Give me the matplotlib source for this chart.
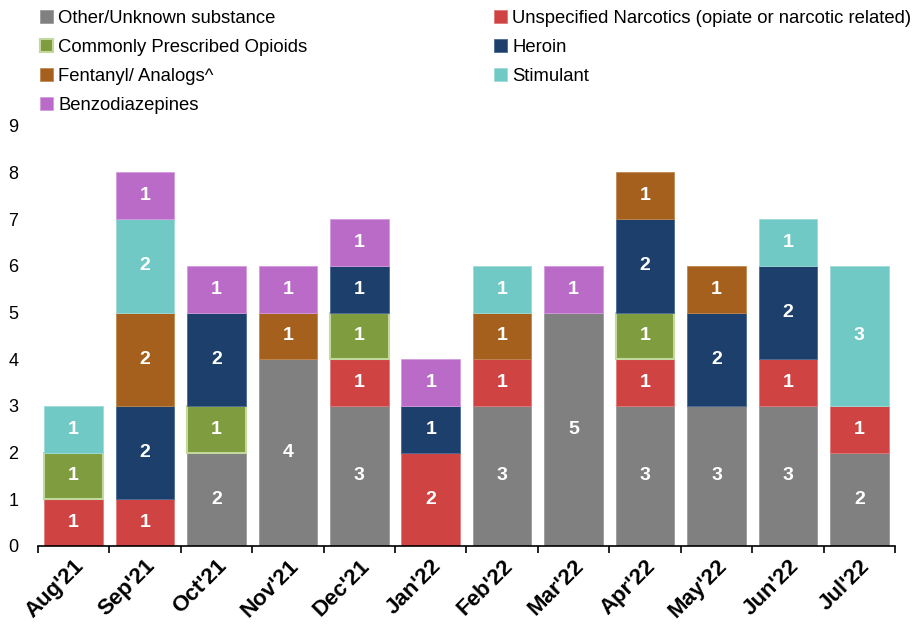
import numpy as np
import matplotlib.pyplot as plt
from matplotlib.ticker import FixedLocator

plt.rcParams['font.family'] = ['Liberation Sans', 'DejaVu Sans']

months = ["Aug'21", "Sep'21", "Oct'21", "Nov'21", "Dec'21", "Jan'22",
          "Feb'22", "Mar'22", "Apr'22", "May'22", "Jun'22", "Jul'22"]

other = [0, 0, 2, 4, 3, 0, 3, 5, 3, 3, 3, 2]
unspecified = [1, 1, 0, 0, 1, 2, 1, 0, 1, 0, 1, 1]
prescribed = [1, 0, 1, 0, 1, 0, 0, 0, 1, 0, 0, 0]
heroin = [0, 2, 2, 0, 1, 1, 0, 0, 2, 2, 2, 0]
fentanyl = [0, 2, 0, 1, 0, 0, 1, 0, 1, 1, 0, 0]
stimulant = [1, 2, 0, 0, 0, 0, 1, 0, 0, 0, 1, 3]
benzo = [0, 1, 1, 1, 1, 1, 0, 1, 0, 0, 0, 0]

series = [
    ("Other/Unknown substance", other, "#808080", "#9a9a9a"),
    ("Unspecified Narcotics (opiate or narcotic related)", unspecified, "#D04343", "#e07a7a"),
    ("Commonly Prescribed Opioids", prescribed, "#7F9C3E", "#c3d89c"),
    ("Heroin", heroin, "#1C3F6B", "#4a6a96"),
    ("Fentanyl/ Analogs^", fentanyl, "#A5601E", "#c08850"),
    ("Stimulant", stimulant, "#71C9C5", "#9edad7"),
    ("Benzodiazepines", benzo, "#BA6BC8", "#d49ade"),
]

fig = plt.figure(figsize=(9.2, 6.26), dpi=100)
ax = fig.add_axes([0.041, 0.128, 0.932, 0.671])

x = np.arange(len(months))
bottom = np.zeros(len(months))
handles = {}
for name, vals, col, edge in series:
    vals = np.array(vals)
    lw = 1.5 if name.startswith("Commonly") else 0.6
    keep = vals > 0
    bars = ax.bar(x[keep], vals[keep], 0.82, bottom=bottom[keep], color=col,
                  edgecolor=edge, linewidth=lw, label=name)
    handles[name] = bars
    for xi, v, b in zip(x[keep], vals[keep], bottom[keep]):
        ax.text(xi, b + v / 2, str(v), ha='center', va='center',
                color='white', fontsize=14, fontweight='bold')
    bottom = bottom + vals

ax.set_xlim(-0.5, len(months) - 0.5)
ax.set_ylim(0, 9)
ax.set_yticks(range(0, 10))
ax.tick_params(axis='y', length=0, labelsize=13, pad=14)
ax.set_xticks(x)
ax.set_xticklabels(months, rotation=45, ha='right', rotation_mode='anchor',
                   fontsize=16, fontweight='bold')
ax.tick_params(axis='x', length=0, pad=7)
ax.xaxis.set_minor_locator(FixedLocator(np.arange(-0.5, len(months), 1.0)))
ax.tick_params(axis='x', which='minor', length=5, width=1.2, color='black')
for s in ['top', 'right', 'left']:
    ax.spines[s].set_visible(False)
ax.spines['bottom'].set_linewidth(1.2)

order = ["Other/Unknown substance", "Commonly Prescribed Opioids",
         "Fentanyl/ Analogs^", "Benzodiazepines",
         "Unspecified Narcotics (opiate or narcotic related)", "Heroin", "Stimulant"]
fig.legend([handles[n] for n in order], order, loc='upper left',
           bbox_to_anchor=(0.032, 1.0), ncol=2, frameon=False, fontsize=13.3,
           handlelength=0.7, handleheight=0.7, handletextpad=0.3,
           columnspacing=10.1, labelspacing=0.64, borderaxespad=0.15)

fig.savefig("out.png", dpi=100)
